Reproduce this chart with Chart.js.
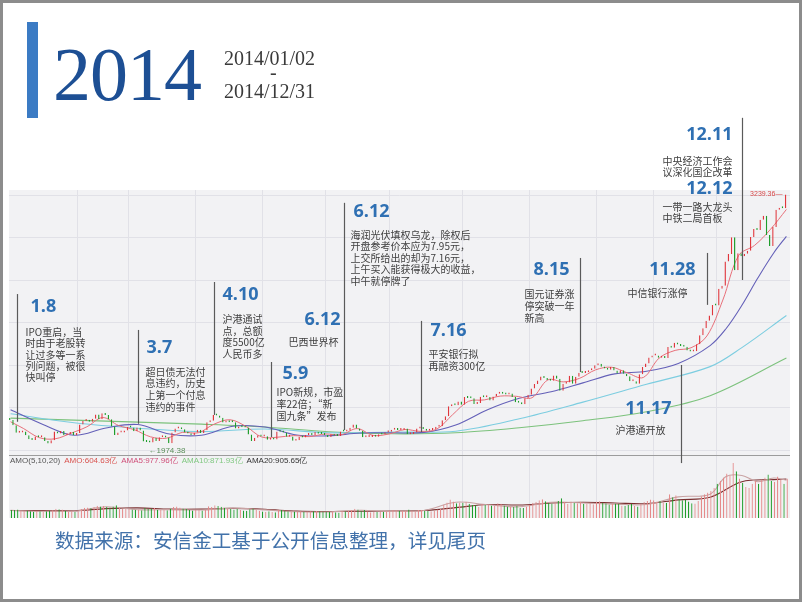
<!DOCTYPE html>
<html>
<head>
<meta charset="utf-8">
<script src="https://cdn.jsdelivr.net/npm/chart.js@4.4.1/dist/chart.umd.min.js"></script>
<style>
  html, body { margin: 0; padding: 0; background: #fff; }
  #page { position: relative; width: 802px; height: 602px; overflow: hidden; }
  #chart { position: absolute; left: 0; top: 0; }
  #frame { position: absolute; left: 0; top: 0; width: 802px; height: 602px; box-sizing: border-box; border: 3px solid #8c8c8c; pointer-events: none; }
  .vbar { position: absolute; left: 27px; top: 22px; width: 11px; height: 96px; background: #3b7bc4; }
  .year { position: absolute; left: 53px; top: 36px; font: 76px/76px "Liberation Serif", serif; color: #1d4f94; letter-spacing: -1px; }
  .date { position: absolute; left: 224px; font: 20px/20px "Liberation Serif", serif; color: #3a3a3a; }
  .src { position: absolute; left: 55px; top: 530px; font: 19.6px/19.6px "Noto Sans CJK SC", sans-serif; color: #4272aa; }
</style>
</head>
<body>
<div id="page">
  <canvas id="chart" width="802" height="602"></canvas>
  <div class="vbar"></div>
  <div class="year">2014</div>
  <div class="date" style="top:48px">2014/01/02</div>
  <div class="date" style="top:62px;left:270px">-</div>
  <div class="date" style="top:81px">2014/12/31</div>
  <div class="src">数据来源：安信金工基于公开信息整理，详见尾页</div>
  <div id="frame"></div>
</div>
<script>
// daily closes of the index, one row per month
const closes = [
  2109, 2083, 2045, 2047, 2052, 2033, 2013, 2009, 2027, 2023, 2023, 2004, 1991, 2008, 2051, 2042, 2054, 2033, 2038, 2049, 2033,
  2044, 2086, 2104, 2110, 2100, 2115, 2136, 2112, 2142, 2134, 2113, 2076, 2034, 2047, 2047, 2056,
  2075, 2071, 2053, 2071, 2057, 2001, 1999, 1997, 2019, 2004, 2023, 2025, 2021, 1993, 2047, 2066, 2067, 2063, 2046, 2041, 2033,
  2047, 2060, 2044, 2058, 2098, 2105, 2134, 2131, 2120, 2096, 2105, 2098, 2097, 2066, 2077, 2073, 2071, 2036, 2004, 2020, 2033,
  2027, 2028, 2010, 2015, 2011, 2052, 2050, 2047, 2025, 2026, 2005, 2008, 2024, 2021, 2034, 2041, 2034, 2050, 2040, 2039,
  2034, 2024, 2038, 2030, 2029, 2052, 2051, 2055, 2070, 2086, 2066, 2055, 2023, 2024, 2024, 2034, 2025, 2038, 2036, 2048,
  2050, 2060, 2063, 2059, 2059, 2066, 2038, 2039, 2047, 2067, 2067, 2064, 2055, 2059, 2064, 2075, 2078, 2107, 2127, 2178, 2184, 2182, 2201,
  2185, 2223, 2219, 2217, 2188, 2194, 2225, 2222, 2223, 2206, 2226, 2240, 2245, 2240, 2236, 2241, 2223, 2197, 2195, 2187, 2217,
  2235, 2266, 2288, 2306, 2326, 2318, 2308, 2304, 2331, 2315, 2255, 2290, 2296, 2329, 2290, 2324, 2345, 2343, 2347, 2357, 2364,
  2382, 2389, 2374, 2366, 2359, 2373, 2356, 2341, 2357, 2339, 2327, 2302, 2302, 2290, 2337, 2373, 2391, 2420,
  2430, 2430, 2419, 2425, 2418, 2473, 2469, 2494, 2485, 2478, 2474, 2456, 2450, 2452, 2487, 2532, 2567, 2604, 2630, 2683,
  2680, 2763, 2779, 2899, 2937, 3020, 2856, 2940, 2925, 2938, 2953, 3021, 3061, 3057, 3108, 3127, 3032, 2977, 3072, 3157, 3168, 3165, 3234
];
const firstOpen = 2112;

// daily turnover (亿)
const amounts = [
  780, 760, 820, 700, 690, 720, 650, 600, 690, 660, 610, 640, 700, 740, 900, 840, 810, 680, 620, 640, 600,
  650, 860, 980, 1020, 930, 1050, 1180, 1100, 1150, 1080, 1020, 1120, 1230, 1010, 870, 880,
  900, 820, 790, 820, 740, 960, 880, 920, 980, 800, 760, 780, 740, 880, 1050, 1100, 1020, 920, 870, 780, 720,
  760, 800, 730, 770, 1130, 1050, 1230, 1150, 1080, 980, 900, 860, 820, 880, 760, 720, 700, 850, 920, 780, 700,
  620, 600, 640, 580, 560, 820, 780, 700, 640, 600, 620, 580, 640, 600, 620, 660, 640, 700, 660, 620,
  600, 580, 620, 560, 540, 680, 660, 700, 780, 880, 820, 700, 760, 620, 560, 600, 580, 620, 600, 660,
  720, 780, 760, 700, 680, 720, 820, 680, 640, 760, 780, 700, 680, 640, 700, 820, 860, 1280, 1500, 1780, 1600, 1420, 1500,
  1460, 1560, 1380, 1260, 1240, 1060, 1340, 1280, 1300, 1200, 1180, 1420, 1380, 1200, 1120, 1080, 1060, 1180, 980, 960, 1120,
  1280, 1480, 1560, 1720, 1800, 1620, 1480, 1400, 1500, 1640, 1900, 1560, 1380, 1600, 1480, 1420, 1560, 1380, 1400, 1460, 1320,
  1600, 1620, 1480, 1420, 1300, 1340, 1400, 1380, 1200, 1180, 1260, 1340, 1160, 1120, 1380, 1560, 1640, 1780,
  1700, 1600, 1650, 1500, 1480, 2300, 2000, 2200, 1800, 1700, 1750, 1600, 1420, 1400, 1650, 2100, 2300, 2450, 2600, 2900,
  3300, 3600, 3900, 4300, 4100, 5300, 4500, 3800, 3400, 3000, 2900, 3300, 3600, 3300, 3700, 3900, 4200, 3600, 3500, 4000, 3700, 3300, 3800
];

// moving averages (trading-day index -> value)
const ma5Days = [0, 4, 9, 14, 19, 24, 29, 34, 39, 44, 49, 54, 59, 64, 69, 74, 79, 84, 89, 94, 99, 104, 109, 114, 119, 124, 129, 134, 139, 144, 149, 154, 159, 164, 169, 174, 179, 184, 189, 194, 199, 204, 209, 214, 219, 224, 229, 234, 239, 244];
const ma5 = [2100, 2067, 2021, 2015, 2043, 2075, 2121, 2081, 2060, 2025, 2018, 2047, 2045, 2088, 2110, 2077, 2024, 2023, 2031, 2026, 2039, 2035, 2066, 2032, 2039, 2061, 2052, 2063, 2135, 2202, 2209, 2228, 2227, 2220, 2309, 2299, 2317, 2359, 2372, 2344, 2321, 2418, 2456, 2469, 2528, 2707, 2930, 2980, 3060, 3159];
const ma20Days = [0, 10, 20, 30, 40, 50, 60, 70, 80, 90, 100, 110, 120, 130, 140, 150, 160, 170, 180, 190, 200, 210, 220, 225, 230, 235, 240, 244];
const ma20 = [2160, 2088, 2033, 2069, 2086, 2039, 2033, 2078, 2074, 2034, 2030, 2044, 2045, 2047, 2084, 2160, 2217, 2250, 2294, 2339, 2352, 2391, 2480, 2564, 2681, 2817, 2942, 3025];
const ma60Days = [0, 20, 40, 60, 80, 100, 120, 140, 160, 180, 200, 220, 230, 244];
const ma60 = [2140, 2095, 2068, 2051, 2064, 2045, 2049, 2053, 2115, 2198, 2287, 2375, 2470, 2630];
const ma120Days = [0, 20, 40, 60, 80, 100, 120, 140, 160, 180, 200, 220, 244];
const ma120 = [2118, 2108, 2098, 2088, 2074, 2050, 2040, 2045, 2070, 2105, 2150, 2230, 2418];
const ama20Days = [0, 10, 20, 30, 40, 50, 60, 70, 80, 90, 100, 110, 120, 130, 140, 150, 160, 170, 180, 190, 200, 210, 220, 230, 240, 244];
const ama20 = [720, 710, 700, 900, 980, 860, 860, 930, 840, 660, 620, 650, 660, 720, 1000, 1300, 1250, 1450, 1520, 1450, 1380, 1750, 2000, 3500, 3700, 3750];
const ama5Days = [0, 10, 20, 30, 40, 50, 60, 70, 80, 90, 100, 110, 120, 130, 140, 150, 160, 170, 180, 190, 200, 210, 220, 225, 230, 235, 240, 244];
const ama5 = [740, 650, 660, 1090, 800, 810, 770, 950, 780, 600, 580, 740, 640, 730, 1520, 1280, 1080, 1520, 1450, 1340, 1300, 2040, 2300, 4000, 4100, 3500, 3850, 3640];

// first trading day of Feb..Dec, horizontal grid prices
const monthStarts = [21, 37, 58, 79, 99, 119, 142, 163, 184, 202, 222];
const gridPrices = [1960, 2172, 2384, 2596, 2808, 3020, 3232];
const panelSplit = 1934;
const lowDay = 44, lowValue = 1974.38;
const highDay = 244, highValue = 3239.36;

const events = [
  { day: 2, top: 2737, bottom: 2100, title: '1.8', tx: 13, ty: 13, lx: 8, ly: 38, lh: 11.4,
    lines: ['IPO重启，当', '时由于老股转', '让过多等一系', '列问题，被很', '快叫停'] },
  { day: 40, top: 2558, bottom: 2090, title: '3.7', tx: 8, ty: 18, lx: 7, ly: 42, lh: 11.7,
    lines: ['超日债无法付', '息违约，历史', '上第一个付息', '违约的事件'] },
  { day: 64, top: 2797, bottom: 2134, title: '4.10', tx: 8, ty: 13, lx: 8, ly: 37, lh: 11.7,
    lines: ['沪港通试', '点，总额', '度5500亿', '人民币多'] },
  { day: 82, top: 2398, bottom: 2024, title: '5.9', tx: 11, ty: 12, lx: 5, ly: 30, lh: 12.3,
    lines: ['IPO新规，市盈', '率22倍；“新', '国九条”发布'] },
  { day: 105, top: 3192, bottom: 2059, title: '6.12', tx: 9, ty: 9, lx: 6, ly: 32, lh: 11.5,
    lines: ['海润光伏填权乌龙，除权后', '开盘参考价本应为7.95元，', '上交所给出的却为7.16元，', '上午买入能获得极大的收益，', '中午就停牌了'] },
  { day: 105, top: 3192, title: '6.12', tAlign: 'right', tx: -4, ty: 117, lAlign: 'right', lx: -6, ly: 139, lh: 12,
    lines: ['巴西世界杯'] },
  { day: 129, top: 2603, bottom: 2049, title: '7.16', tx: 9, ty: 10, lx: 7, ly: 33, lh: 12,
    lines: ['平安银行拟', '再融资300亿'] },
  { day: 179, top: 2917, bottom: 2348, title: '8.15', tAlign: 'right', tx: -11, ty: 12, lx: -56, ly: 36, lh: 12,
    lines: ['国元证券涨', '停突破一年', '新高'] },
  { day: 211, top: 2383, bottom: 1894, title: '11.17', tAlign: 'right', tx: -10, ty: 44, lAlign: 'right', lx: -16, ly: 65, lh: 12,
    lines: ['沪港通开放'] },
  { day: 219, top: 2942, bottom: 2683, title: '11.28', tAlign: 'right', tx: -12, ty: 17, lAlign: 'right', lx: -20, ly: 40, lh: 12,
    lines: ['中信银行涨停'] },
  { day: 230, top: 3616, bottom: 2807, title: '12.11', tAlign: 'right', tx: -10, ty: 17, lx: -80, ly: 43, lh: 11,
    lines: ['中央经济工作会', '议深化国企改革'] },
  { day: 230, top: 3616, title: '12.12', tAlign: 'right', tx: -10, ty: 71, lx: -80, ly: 89, lh: 11.6,
    lines: ['一带一路大龙头', '中铁二局首板'] }
];

const volLegend = [
  ['AMO(5,10,20)', '#555555'],
  ['AMO:604.63亿', '#d9534f'],
  ['AMA5:977.96亿', '#d0507a'],
  ['AMA10:871.93亿', '#82c882'],
  ['AMA20:905.65亿', '#333333']
];

const labels = closes.map((c, i) => i);
const opens = closes.map((c, i) => (i === 0 ? firstOpen : closes[i - 1]));
const isUp = closes.map((c, i) => c >= opens[i]);

function sparse(days, vals) {
  const out = new Array(closes.length).fill(null);
  days.forEach((d, k) => { out[d] = vals[k]; });
  return out;
}

function maLine(days, vals, color, axis, width) {
  return {
    type: 'line', data: sparse(days, vals), yAxisID: axis || 'y',
    borderColor: color, borderWidth: width || 1.1, pointRadius: 0,
    spanGaps: true, tension: 0.35, order: 2
  };
}

const panelPlugin = {
  id: 'panel',
  beforeDatasetsDraw(chart) {
    const { ctx, chartArea: a, scales: { x, y } } = chart;
    const right = a.right + 2;
    ctx.save();
    ctx.fillStyle = '#f2f2f4';
    ctx.fillRect(a.left, a.top, right - a.left, a.bottom - a.top);
    ctx.strokeStyle = '#e1e1e7';
    ctx.lineWidth = 1;
    ctx.beginPath();
    gridPrices.forEach(p => {
      const py = Math.round(y.getPixelForValue(p)) + 0.5;
      ctx.moveTo(a.left, py); ctx.lineTo(right, py);
    });
    monthStarts.forEach(d => {
      const px = Math.round(x.getPixelForValue(d)) + 0.5;
      ctx.moveTo(px, a.top); ctx.lineTo(px, a.bottom);
    });
    ctx.stroke();
    const sy = Math.round(y.getPixelForValue(panelSplit)) + 0.5;
    ctx.strokeStyle = '#9c9c9c';
    ctx.beginPath(); ctx.moveTo(a.left, sy); ctx.lineTo(right, sy); ctx.stroke();
    ctx.restore();
  },
  afterDatasetsDraw(chart) {
    const { ctx, chartArea: a, scales: { x, y } } = chart;
    ctx.save();
    // volume indicator legend
    const sy = y.getPixelForValue(panelSplit);
    ctx.font = '8px "Liberation Sans", sans-serif';
    ctx.textBaseline = 'middle';
    let lx = a.left + 1;
    volLegend.forEach(([t, c]) => {
      ctx.fillStyle = c;
      ctx.fillText(t, lx, sy + 6);
      lx += ctx.measureText(t).width + 4;
    });
    // low / high labels
    ctx.fillStyle = '#5b8f5b';
    ctx.textAlign = 'left';
    ctx.fillText('←1974.38', x.getPixelForValue(lowDay) - 2, y.getPixelForValue(lowValue) + 4);
    ctx.fillStyle = '#d84848';
    ctx.textAlign = 'right';
    ctx.font = '7px "Liberation Sans", sans-serif';
    ctx.fillText('3239.36—', x.getPixelForValue(highDay) - 4, y.getPixelForValue(highValue) + 1);

    // event markers
    events.forEach(ev => {
      const ex = Math.round(x.getPixelForValue(ev.day)) + 0.5;
      const ey = y.getPixelForValue(ev.top);
      if (ev.bottom !== undefined) {
        ctx.strokeStyle = '#5a5a5a';
        ctx.lineWidth = 1.2;
        ctx.beginPath();
        ctx.moveTo(ex, ey);
        ctx.lineTo(ex, y.getPixelForValue(ev.bottom));
        ctx.stroke();
      }
      ctx.textBaseline = 'middle';
      ctx.fillStyle = '#2f70b3';
      ctx.font = 'bold 18px "Open Sans", "Noto Sans", sans-serif';
      ctx.textAlign = ev.tAlign || 'left';
      ctx.fillText(ev.title, ex + ev.tx, ey + ev.ty);
      ctx.fillStyle = '#404040';
      ctx.font = '10px "Noto Sans CJK SC", sans-serif';
      ctx.textAlign = ev.lAlign || 'left';
      ev.lines.forEach((t, k) => ctx.fillText(t, ex + ev.lx, ey + ev.ly + k * ev.lh));
    });
    ctx.restore();
  }
};

new Chart(document.getElementById('chart'), {
  type: 'bar',
  data: {
    labels: labels,
    datasets: [
      {
        label: 'K',
        data: closes.map((c, i) => [opens[i], c]),
        yAxisID: 'y',
        backgroundColor: isUp.map(u => (u ? '#f6c8c8' : '#1f9e2c')),
        borderColor: isUp.map(u => (u ? '#e0363c' : '#1f9e2c')),
        borderWidth: 1,
        borderSkipped: false,
        barPercentage: 0.9,
        categoryPercentage: 1,
        minBarLength: 2,
        order: 0
      },
      {
        label: 'AMO',
        data: amounts,
        yAxisID: 'v',
        backgroundColor: isUp.map(u => (u ? '#f3b0b0' : '#1f9e2c')),
        borderColor: isUp.map(u => (u ? '#e58a8a' : '#1f9e2c')),
        borderWidth: 1,
        borderSkipped: false,
        barPercentage: 0.8,
        categoryPercentage: 1,
        order: 1
      },
      maLine(ma5Days, ma5, '#e8707a', 'y', 1),
      maLine(ma20Days, ma20, '#6460b8'),
      maLine(ma60Days, ma60, '#7ccde0'),
      maLine(ma120Days, ma120, '#7cc27c'),
      maLine(ama5Days, ama5, '#c9a3a3', 'v'),
      maLine(ama20Days, ama20, '#7a2f2f', 'v')
    ]
  },
  options: {
    responsive: false,
    animation: false,
    devicePixelRatio: 1,
    layout: { padding: { left: 9, right: 14, top: 190, bottom: 84 } },
    plugins: { legend: { display: false }, tooltip: { enabled: false } },
    scales: {
      x: { type: 'category', offset: true, display: false },
      y: { type: 'linear', min: 1620, max: 3256, display: false },
      v: { type: 'linear', min: 0, max: 31620, display: false }
    }
  },
  plugins: [panelPlugin]
});
</script>
</body>
</html>
